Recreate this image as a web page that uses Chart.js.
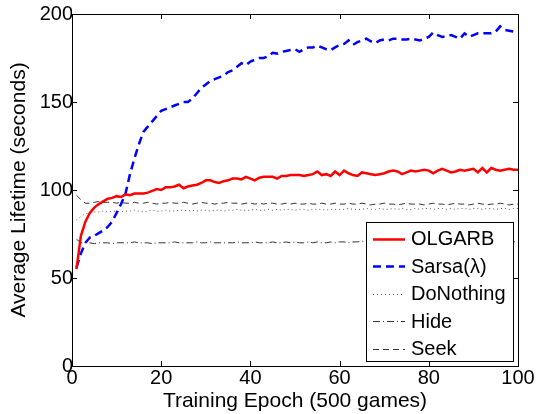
<!DOCTYPE html>
<html>
<head>
<meta charset="utf-8">
<script src="https://cdn.jsdelivr.net/npm/chart.js@4/dist/chart.umd.min.js"></script>
<style>
    html, body { margin: 0; padding: 0; background: #fff; }
    canvas { display: block; }
</style>
</head>
<body>
<canvas id="lifetimeChart" width="540" height="414"></canvas>
<script>
    // epochs 1..100
    const epochs = [];
    for (let i = 1; i <= 100; i++) epochs.push(i);

    const seriesNames = ['OLGARB', 'Sarsa(\u03bb)', 'DoNothing', 'Hide', 'Seek'];
    const xTicks = [0, 20, 40, 60, 80, 100];
    const yTicks = [0, 50, 100, 150, 200];

    const olgarb = [55, 74, 82, 87, 90, 92, 93.5, 95, 95.5, 96.5,
        96, 97.5, 97, 98, 98, 98, 98.5, 99.5, 100.5, 100,
        101.5, 101.5, 102, 103, 101, 102, 102.5, 103, 104, 105.5,
        105.5, 104.5, 104, 105, 105.5, 106.5, 106.5, 106, 107.5, 106.5,
        105.5, 107, 107.5, 107.5, 107.5, 106.5, 108, 108, 108.5, 108.5,
        108.5, 108, 108.5, 109, 110.5, 108.5, 109, 108, 110.5, 108.5,
        111, 109.5, 108.5, 108, 110, 109.5, 109, 108.5, 109, 109.5,
        110.5, 111, 110.5, 109, 110, 111, 110.5, 111, 111.5, 111,
        109.5, 111, 112, 111, 110, 110.5, 111.5, 111, 111.5, 112,
        110, 112.5, 110, 112.5, 111.5, 111, 111.5, 112, 111.5, 111.5];

    const sarsa = [56, 64, 70, 73, 74, 75.5, 77, 79, 82, 87,
        92, 98, 109, 118, 126, 133, 136, 139, 142, 145,
        146, 147, 148, 149, 150, 150, 152, 155, 158, 160,
        162, 163, 164, 165, 167, 168, 170, 172, 171, 173,
        174, 175, 175, 176, 178, 177.5, 178.5, 179, 179.5, 180,
        178.5, 180, 181, 181, 182, 181, 180, 179.5, 181, 182.5,
        183, 185, 182.5, 184, 185, 186, 184.5, 183.5, 185, 185.5,
        185, 186, 186, 185.5, 185.5, 186, 185.5, 185, 186, 187,
        189.5, 188, 187, 187.5, 188, 187, 186, 189, 187, 188,
        189, 189, 189, 189, 190, 193, 191, 190.5, 190, 190];

    const doNothing = [83, 85, 86.5, 87, 87.5, 87.5, 88, 87.5, 88, 88,
        87.5, 88, 88, 88.5, 88, 87.5, 88, 88.5, 88, 88,
        88.5, 88, 88, 88.5, 88.5, 88, 88.5, 88, 88.5, 88.5,
        88, 88.5, 88.5, 88, 88.5, 88.5, 89, 88.5, 88.5, 88.5,
        89, 88.5, 88.5, 89, 88.5, 89, 88.5, 89, 89, 88.5,
        89, 89, 88.5, 89, 89, 89, 88.5, 89, 89, 89,
        89, 89.5, 89, 89, 89, 89.5, 89, 89, 89.5, 89,
        89, 89.5, 89, 89.5, 89, 89, 89.5, 89, 89.5, 89.5,
        89, 89.5, 89.5, 89, 89.5, 89, 89.5, 89.5, 89, 89.5,
        89.5, 89, 89.5, 89.5, 89, 89.5, 89.5, 89, 89.5, 89.5];

    const hide = [72, 70, 70, 70, 69.5, 70, 70, 70, 69.5, 70,
        70, 70, 70, 70.5, 70, 70, 70, 69.5, 70, 70,
        70, 70, 70.5, 70, 70, 70, 70, 70.5, 70, 70,
        70.5, 70, 70, 70, 70, 70, 70.5, 70, 70, 70,
        70.5, 70, 70, 70, 70.5, 70, 70, 70.5, 70, 70.5,
        70, 70, 70.5, 70, 70.5, 70, 70, 70.5, 70, 70.5,
        70.5, 70, 70.5, 70.5, 71, 70.5, 70.5, 70.5, 70.5, 71,
        70.5, 70.5, 71, 70.5, 70.5, 71, 70.5, 70.5, 71, 70.5,
        70.5, 71, 70.5, 71, 70.5, 70.5, 71, 70.5, 71, 70.5,
        71, 70.5, 71, 70.5, 70.5, 71, 70.5, 71, 70.5, 71];

    const seek = [97, 94.5, 92.5, 92.5, 93, 93.5, 93, 93, 93, 92.5,
        93, 92.5, 92.5, 93, 92.5, 92.5, 93, 92.5, 92, 92.5,
        92.5, 93, 92.5, 92.5, 93, 92.5, 92, 92.5, 93, 92.5,
        92.5, 92, 92.5, 92.5, 93, 92.5, 92.5, 92, 92.5, 92.5,
        92, 92.5, 92, 92.5, 92.5, 92, 92, 92.5, 92, 92.5,
        92, 92, 92.5, 92, 92, 92.5, 92, 92, 92.5, 92,
        92, 92.5, 92, 92, 92.5, 92, 91.5, 92, 92, 92.5,
        92, 92, 91.5, 92, 92.5, 92, 92, 92, 91.5, 92,
        92.5, 92, 92, 91.5, 92, 92.5, 92, 92, 91.5, 92,
        92.5, 92, 91.5, 92, 92, 92.5, 92, 91.5, 92, 92];

    const FONT = '"Liberation Sans", Arial, Helvetica, sans-serif';

    function makeSeries(label, values, color, width, dash) {
        return {
            label: label,
            data: values.map((v, i) => ({x: epochs[i], y: v})),
            borderColor: color,
            borderWidth: width,
            borderDash: dash,
            pointRadius: 0,
            tension: 0,
            fill: false
        };
    }

    // matlab style box with ticks pointing inwards
    const boxPlugin = {
        id: 'matlabBox',
        afterDatasetsDraw(chart) {
            const {ctx, chartArea: a, scales} = chart;
            const len = 5;
            ctx.save();
            ctx.strokeStyle = '#000';
            ctx.lineWidth = 1;
            ctx.strokeRect(Math.round(a.left) + 0.5, Math.round(a.top) + 0.5,
                Math.round(a.right - a.left), Math.round(a.bottom - a.top));
            ctx.beginPath();
            xTicks.forEach(v => {
                let px = Math.round(scales.x.getPixelForValue(v)) + 0.5;
                ctx.moveTo(px, a.bottom); ctx.lineTo(px, a.bottom - len);
                ctx.moveTo(px, a.top); ctx.lineTo(px, a.top + len);
            });
            yTicks.forEach(v => {
                let py = Math.round(scales.y.getPixelForValue(v)) + 0.5;
                ctx.moveTo(a.left, py); ctx.lineTo(a.left + len, py);
                ctx.moveTo(a.right, py); ctx.lineTo(a.right - len, py);
            });
            ctx.stroke();
            ctx.restore();
        }
    };

    // legend box sitting inside the plot, bottom right
    const legendPlugin = {
        id: 'insideLegend',
        afterDraw(chart) {
            const {ctx, chartArea: a} = chart;
            const w = 147, h = 139;
            const x0 = Math.round(a.right - 5 - w), y0 = Math.round(a.bottom - 5 - h);
            ctx.save();
            ctx.fillStyle = '#fff';
            ctx.fillRect(x0, y0, w, h);
            ctx.strokeStyle = '#000';
            ctx.lineWidth = 1;
            ctx.strokeRect(x0 + 0.5, y0 + 0.5, w, h);
            ctx.font = '20px ' + FONT;
            ctx.textBaseline = 'middle';
            chart.data.datasets.forEach((ds, i) => {
                let y = y0 + 16.5 + i * 27.5;
                ctx.beginPath();
                ctx.strokeStyle = ds.borderColor;
                ctx.lineWidth = ds.borderWidth;
                ctx.setLineDash(ds.borderDash || []);
                ctx.moveTo(x0 + 7, Math.round(y) + 0.5);
                ctx.lineTo(x0 + 39, Math.round(y) + 0.5);
                ctx.stroke();
                ctx.setLineDash([]);
                ctx.fillStyle = '#000';
                ctx.fillText(ds.label, x0 + 45, y + 1);
            });
            ctx.restore();
        }
    };

    const ctx = document.getElementById('lifetimeChart').getContext('2d');
    new Chart(ctx, {
        type: 'line',
        data: {
            datasets: [
                makeSeries(seriesNames[0], olgarb, '#ff0000', 2.5, []),
                makeSeries(seriesNames[1], sarsa, '#0000ff', 2.5, [8, 5]),
                makeSeries(seriesNames[2], doNothing, '#555555', 1, [1, 3]),
                makeSeries(seriesNames[3], hide, '#333333', 1, [7, 3, 1, 3]),
                makeSeries(seriesNames[4], seek, '#333333', 1, [6, 4])
            ]
        },
        options: {
            responsive: false,
            animation: false,
            layout: {padding: {left: 0, right: 22, top: 14, bottom: 0}},
            plugins: {
                legend: {display: false},
                tooltip: {enabled: false}
            },
            scales: {
                x: {
                    type: 'linear',
                    min: 0,
                    max: 100,
                    afterBuildTicks: (s) => { s.ticks = xTicks.map(v => ({value: v})); },
                    afterFit: (s) => { s.height = 48; },
                    grid: {display: false, drawTicks: false},
                    border: {display: false},
                    ticks: {color: '#000', font: {family: FONT, size: 20}, padding: 0, maxRotation: 0},
                    title: {display: true, text: 'Training Epoch (500 games)', color: '#000',
                        font: {family: FONT, size: 21}, padding: {top: 0, bottom: 0}}
                },
                y: {
                    min: 0,
                    max: 200,
                    afterBuildTicks: (s) => { s.ticks = yTicks.map(v => ({value: v})); },
                    afterFit: (s) => { s.width = 72; },
                    grid: {display: false, drawTicks: false},
                    border: {display: false},
                    ticks: {color: '#000', font: {family: FONT, size: 20}, padding: -1},
                    title: {display: true, text: 'Average Lifetime (seconds)', color: '#000',
                        font: {family: FONT, size: 21}, padding: {top: 7, bottom: 0}}
                }
            }
        },
        plugins: [boxPlugin, legendPlugin]
    });
</script>
</body>
</html>
